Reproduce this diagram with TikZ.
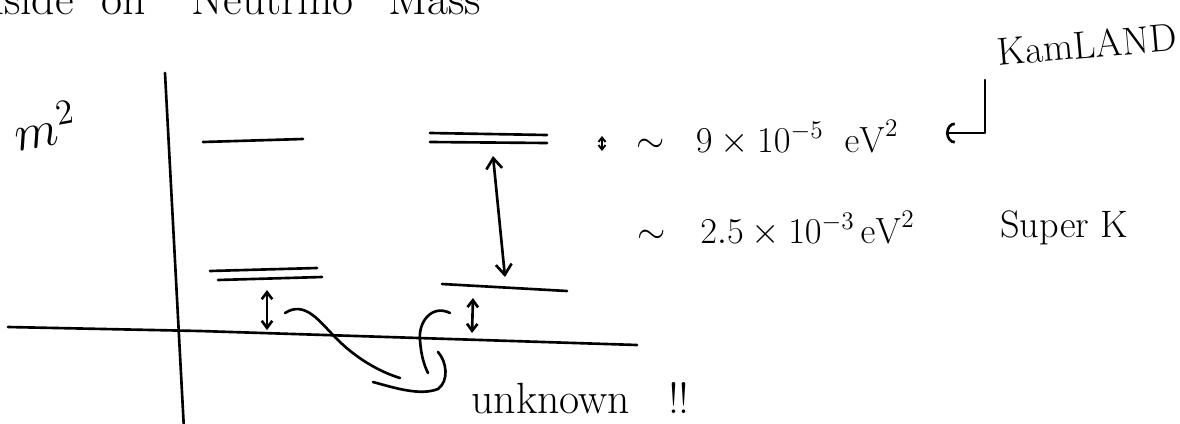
\documentclass[tikz,border=0pt]{standalone}
\usepackage{amsmath}
\usetikzlibrary{arrows.meta}

\tikzset{
	pen/.style={line width=1.5pt, line cap=round, line join=round},
	level/.style={pen},
	gap/.style={pen, {Straight Barb[length=6pt,width=9pt]}-{Straight Barb[length=6pt,width=9pt]}},
	smallgap/.style={pen, {Straight Barb[length=4pt,width=6pt]}-{Straight Barb[length=4pt,width=6pt]}},
	hand/.style={font=\huge, inner sep=0pt},
}

\begin{document}
\begin{tikzpicture}[x=0.02cm, y=-0.02cm]
	\useasboundingbox (0,0) rectangle (1180,423);

	% title, cut by the top edge of the page
	\node[anchor=base west, inner sep=0pt, font=\fontsize{26}{30}\selectfont] (title) at (-28,14)
		{Aside\hspace{16pt}on\hspace{26pt}Neutrino\hspace{20pt}Mass};

	% --- axes ---
	\coordinate (yaxtop) at (165,73);
	\coordinate (yaxbot) at (184,430);
	\coordinate (xaxl) at (8,327);
	\coordinate (xaxm) at (200,331);
	\coordinate (xaxr) at (637,345);
	\draw[pen] (yaxtop) -- (yaxbot);
	\draw[pen] (xaxl) -- (xaxm) -- (xaxr);
	\node[hand, scale=1.4, rotate=10] (msq) at (45,126) {$m^2$};

	% --- levels, left ordering ---
	\draw[level] (203,142) -- (303,139);
	\draw[level] (210,271) -- (317,268);
	\draw[level] (218,280) -- (322,277);

	% --- levels, right ordering ---
	\draw[level] (430,133) -- (547,135);
	\draw[level] (430,142) -- (547,143);
	\draw[level] (442,284) -- (567,291);

	% --- splittings ---
	\coordinate (atmtop) at (493,156);
	\coordinate (atmbot) at (505,277);
	\draw[gap] (atmtop) -- (atmbot);

	\coordinate (lgaptop) at (267,290);
	\coordinate (lgapbot) at (267,330);
	\draw[smallgap] (lgaptop) -- (lgapbot);
	\coordinate (rgaptop) at (473,298);
	\coordinate (rgapbot) at (472,333);
	\draw[smallgap] (rgaptop) -- (rgapbot);

	\coordinate (soltop) at (602,136);
	\coordinate (solbot) at (602,151);
	\draw[pen, line width=1.1pt, {Straight Barb[length=2.5pt,width=4pt]}-{Straight Barb[length=2.5pt,width=4pt]}] (soltop) -- (solbot);

	% --- values ---
	\node[hand, anchor=base west] (sol) at (636,152)
		{$\sim\hspace{12pt}9\times10^{-5}\hspace{12pt}\mathrm{eV}^2$};
	\node[hand, anchor=base west] (atm) at (637,243)
		{$\sim\hspace{14pt}2.5\times10^{-3}\,\mathrm{eV}^2$};

	\node[hand, anchor=base west, rotate=5, scale=1.07] (kamland) at (998,66) {KamLAND};
	\node[hand, anchor=base west, scale=1.05] (superk) at (1000,237) {Super K};

	\coordinate (hooktop) at (985,80);
	\coordinate (hookcorner) at (985,133);
	\coordinate (hooktip) at (946,133);
	\draw[pen, -{Arc Barb[length=5pt,width=12pt]}] (hooktop) -- (hookcorner) -- (hooktip);

	% --- unknown offsets ---
	\node[hand, anchor=base west, scale=1.2] (unknown) at (471,413) {unknown\hspace{18pt}!!};

	\coordinate (la) at (285,313);
	\coordinate (lb) at (335,337);
	\coordinate (lc) at (400,378);
	\draw[pen] (la) .. controls (305,300) and (320,322) .. (lb) .. controls (355,358) and (380,372) .. (lc);
	\coordinate (ra) at (450,313);
	\coordinate (rb) at (420,340);
	\coordinate (rc) at (428,373);
	\draw[pen] (ra) .. controls (432,304) and (418,322) .. (rb) .. controls (421,355) and (424,365) .. (rc);
	\coordinate (ua) at (373,382);
	\coordinate (ub) at (438,389);
	\coordinate (uc) at (438,352);
	\draw[pen] (ua) .. controls (395,388) and (420,396) .. (ub) .. controls (449,381) and (447,362) .. (uc);

\end{tikzpicture}
\end{document}
